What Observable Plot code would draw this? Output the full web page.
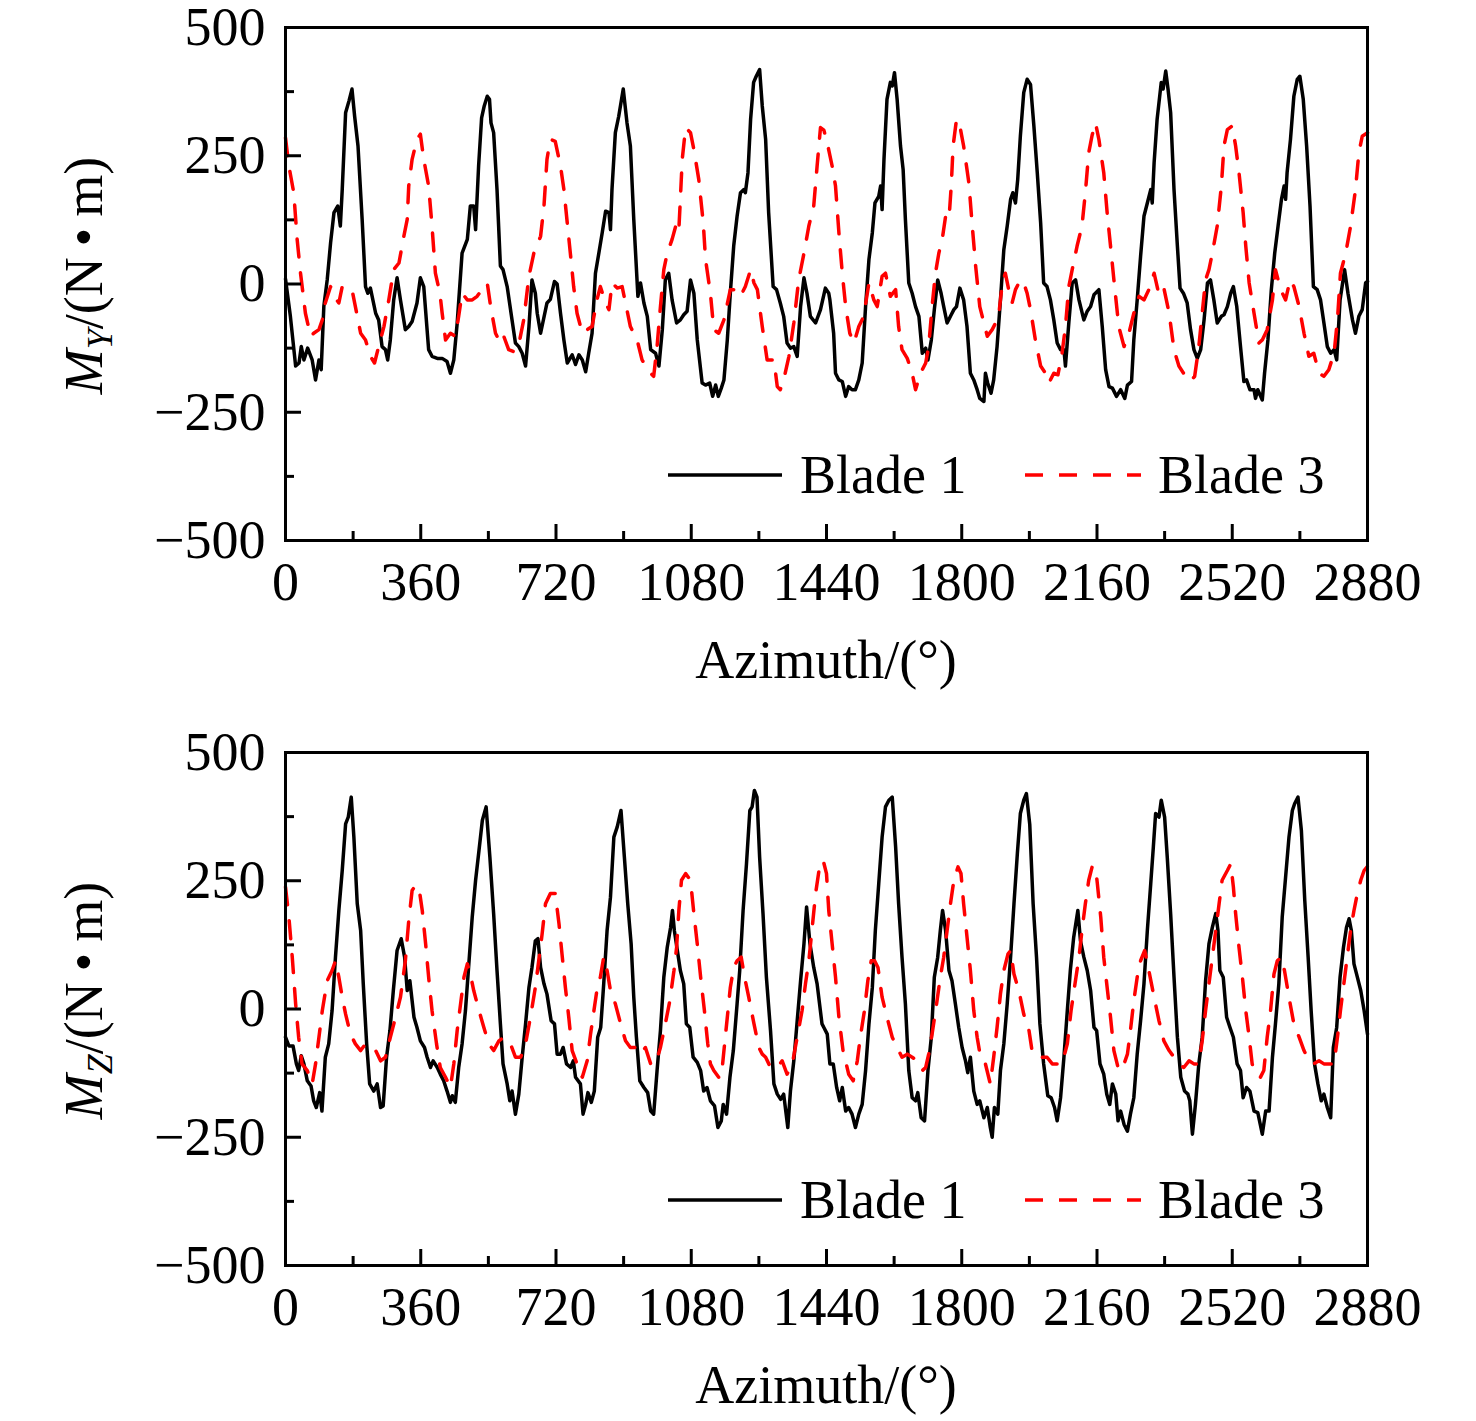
<!DOCTYPE html>
<html>
<head>
<meta charset="utf-8">
<script src="https://cdn.jsdelivr.net/npm/d3@7"></script>
<script src="https://cdn.jsdelivr.net/npm/@observablehq/plot@0.6"></script>
<style>
html,body{margin:0;padding:0;background:#fff;}
#chart svg{display:block;}
</style>
</head>
<body>
<div id="chart"></div>
<script>
// ---- axis ticks ----
const xTicks = [0, 360, 720, 1080, 1440, 1800, 2160, 2520, 2880];
const xMinorTicks = [180, 540, 900, 1260, 1620, 1980, 2340, 2700];
const yTicks = [-500, -250, 0, 250, 500];
const yMinorTicks = [-375, -125, 125, 375];
const seriesNames = ["Blade 1", "Blade 3"];
const xTitle = "Azimuth/(°)";

// ---- M_Y : Blade 1 [azimuth, value] ----
const blade1MY = [[0,10],[13,-63],[27,-160],[36,-154],[42,-122],[49,-148],[59,-125],[71,-148],[80,-187],[89,-148],[95,-167],[102,-44],[111,8],[120,80],[129,139],[139,152],[146,113],[151,184],[160,334],[169,357],[177,380],[184,327],[193,269],[204,126],[213,-5],[219,-18],[226,-8],[240,-57],[248,-70],[257,-122],[266,-128],[272,-148],[279,-109],[288,-31],[297,12],[306,-31],[319,-89],[328,-83],[337,-73],[350,-37],[359,12],[368,-5],[381,-128],[390,-141],[404,-145],[417,-145],[430,-151],[439,-174],[448,-148],[457,-76],[470,60],[484,87],[492,152],[501,152],[506,106],[514,230],[522,324],[529,347],[537,366],[543,360],[547,314],[554,295],[563,184],[572,35],[579,28],[590,-5],[603,-70],[612,-115],[621,-122],[630,-135],[639,-160],[648,-83],[656,8],[665,-18],[670,-57],[679,-96],[696,-37],[705,-30],[716,5],[723,0],[732,-57],[741,-109],[750,-154],[763,-138],[772,-157],[781,-138],[790,-148],[799,-171],[807,-135],[816,-96],[825,21],[834,60],[843,100],[852,142],[861,139],[865,106],[869,184],[878,295],[887,327],[899,380],[909,314],[918,269],[927,126],[938,-24],[945,2],[954,-37],[963,-63],[972,-128],[985,-135],[994,-160],[1003,-89],[1011,8],[1020,21],[1029,-31],[1041,-76],[1051,-70],[1060,-60],[1069,-53],[1078,8],[1087,-18],[1096,-109],[1109,-193],[1118,-197],[1129,-193],[1137,-219],[1145,-197],[1152,-219],[1160,-203],[1167,-187],[1176,-109],[1184,-18],[1193,74],[1202,132],[1211,178],[1220,184],[1224,178],[1231,217],[1238,321],[1246,393],[1253,405],[1262,418],[1269,347],[1278,282],[1286,139],[1298,-5],[1307,-11],[1317,-37],[1326,-63],[1335,-115],[1344,-125],[1353,-122],[1362,-141],[1371,-44],[1380,12],[1388,-18],[1397,-63],[1411,-76],[1424,-50],[1437,-8],[1446,-18],[1449,-31],[1459,-96],[1464,-174],[1473,-187],[1482,-190],[1491,-219],[1499,-200],[1508,-206],[1517,-206],[1526,-187],[1535,-154],[1544,-44],[1553,48],[1562,100],[1569,158],[1579,171],[1584,191],[1588,145],[1593,243],[1601,360],[1610,393],[1615,386],[1621,412],[1628,360],[1637,269],[1644,223],[1650,126],[1659,2],[1668,-18],[1677,-44],[1686,-63],[1695,-135],[1704,-125],[1710,-148],[1719,-109],[1727,-50],[1736,8],[1745,-18],[1752,-44],[1761,-76],[1772,-60],[1779,-50],[1786,-44],[1795,-8],[1805,-31],[1814,-83],[1823,-174],[1832,-187],[1841,-206],[1848,-223],[1859,-229],[1863,-174],[1869,-193],[1878,-213],[1885,-187],[1894,-122],[1903,-31],[1912,67],[1921,113],[1930,165],[1936,178],[1943,158],[1949,204],[1956,288],[1965,373],[1974,399],[1983,389],[1992,308],[2001,217],[2010,119],[2018,2],[2027,-5],[2036,-31],[2045,-70],[2054,-115],[2063,-128],[2072,-128],[2076,-160],[2085,-76],[2094,2],[2103,8],[2112,-31],[2125,-70],[2134,-53],[2143,-44],[2152,-21],[2165,-11],[2174,-83],[2183,-167],[2192,-200],[2201,-203],[2212,-219],[2223,-206],[2234,-223],[2241,-197],[2252,-190],[2258,-109],[2267,-31],[2276,54],[2285,132],[2294,158],[2303,184],[2307,158],[2312,236],[2320,321],[2331,393],[2336,380],[2343,415],[2349,380],[2356,334],[2365,184],[2374,74],[2381,-8],[2390,-18],[2400,-37],[2409,-89],[2418,-128],[2427,-145],[2436,-128],[2445,-70],[2454,2],[2462,8],[2471,-31],[2480,-76],[2491,-63],[2498,-60],[2507,-44],[2516,-18],[2523,-5],[2532,-44],[2542,-122],[2551,-190],[2558,-187],[2567,-206],[2578,-206],[2582,-223],[2588,-206],[2600,-226],[2606,-174],[2615,-109],[2624,-11],[2633,60],[2642,113],[2651,165],[2658,191],[2662,165],[2666,217],[2675,282],[2684,366],[2693,399],[2700,405],[2709,360],[2718,269],[2727,152],[2736,-5],[2746,-11],[2755,-31],[2764,-76],[2773,-122],[2782,-135],[2791,-128],[2798,-148],[2807,-31],[2819,28],[2828,-18],[2840,-70],[2848,-96],[2857,-63],[2866,-50],[2875,2],[2880,5]];

// ---- M_Y : Blade 3 ----
const blade3MY = [[0,285],[9,230],[22,178],[31,87],[40,21],[53,-57],[67,-102],[75,-96],[89,-89],[98,-70],[106,-37],[120,-5],[129,-24],[142,-37],[151,-5],[164,-8],[177,-11],[186,-44],[200,-96],[213,-109],[226,-141],[237,-154],[248,-122],[262,-83],[275,-31],[288,28],[302,41],[315,93],[324,126],[328,191],[337,243],[350,282],[359,292],[368,243],[381,191],[390,113],[399,21],[411,-18],[417,-57],[426,-109],[439,-96],[452,-102],[461,-63],[470,-18],[484,-31],[497,-31],[510,-24],[523,-11],[537,2],[546,-44],[559,-96],[572,-115],[581,-102],[594,-128],[608,-132],[621,-118],[634,-70],[648,15],[661,60],[679,93],[688,152],[696,243],[705,282],[718,278],[732,230],[741,184],[750,119],[759,54],[767,-5],[776,-57],[790,-96],[803,-89],[816,-83],[829,-31],[838,-5],[852,-37],[861,-50],[869,2],[883,-8],[896,-5],[905,-37],[918,-83],[936,-109],[949,-148],[963,-164],[972,-174],[980,-180],[989,-122],[998,-44],[1007,28],[1016,60],[1029,87],[1041,119],[1047,106],[1051,165],[1056,243],[1065,305],[1078,295],[1087,262],[1100,204],[1112,119],[1118,48],[1131,-18],[1140,-89],[1153,-96],[1167,-70],[1184,-11],[1198,-11],[1211,-24],[1224,-5],[1238,28],[1247,2],[1256,-11],[1269,-83],[1282,-148],[1300,-148],[1309,-200],[1317,-206],[1326,-187],[1340,-141],[1353,-76],[1366,8],[1380,60],[1393,113],[1406,152],[1415,230],[1424,305],[1433,300],[1442,275],[1455,230],[1464,191],[1473,100],[1482,21],[1491,-44],[1502,-96],[1513,-115],[1526,-83],[1539,-63],[1553,2],[1566,-31],[1575,-44],[1588,15],[1597,21],[1610,-24],[1624,-11],[1632,-83],[1641,-128],[1655,-145],[1668,-174],[1677,-206],[1690,-174],[1704,-154],[1712,-122],[1721,-44],[1730,21],[1739,60],[1748,87],[1757,132],[1766,126],[1772,191],[1777,269],[1786,321],[1795,308],[1805,269],[1819,197],[1828,113],[1837,35],[1848,-44],[1859,-76],[1868,-102],[1881,-89],[1890,-76],[1899,-57],[1908,2],[1916,21],[1925,-11],[1934,-37],[1943,-11],[1956,8],[1965,2],[1974,-18],[1983,-50],[1996,-109],[2010,-160],[2023,-174],[2032,-193],[2045,-174],[2056,-177],[2067,-135],[2076,-83],[2085,-5],[2094,28],[2107,74],[2120,113],[2129,178],[2138,256],[2147,290],[2156,314],[2165,282],[2178,217],[2187,139],[2196,74],[2205,8],[2218,-83],[2232,-122],[2245,-96],[2258,-57],[2272,-24],[2285,-31],[2298,-11],[2312,21],[2325,-21],[2338,-8],[2352,-57],[2365,-128],[2378,-160],[2396,-180],[2409,-190],[2420,-180],[2431,-122],[2440,-57],[2449,8],[2458,28],[2467,60],[2480,113],[2491,191],[2498,269],[2507,301],[2520,308],[2529,269],[2538,217],[2549,139],[2556,74],[2565,2],[2578,-57],[2591,-115],[2600,-109],[2613,-89],[2627,-31],[2635,28],[2649,-11],[2662,-31],[2674,8],[2684,-5],[2698,-44],[2711,-96],[2724,-141],[2737,-135],[2751,-174],[2764,-180],[2777,-167],[2791,-135],[2800,-70],[2808,21],[2822,60],[2835,113],[2848,184],[2857,256],[2866,288],[2880,295]];

// ---- M_Z : Blade 1 ----
const blade1MZ = [[0,-55],[9,-72],[20,-72],[29,-107],[35,-120],[42,-91],[49,-107],[58,-140],[68,-150],[75,-179],[82,-192],[91,-163],[97,-199],[106,-94],[115,-68],[124,-3],[133,101],[142,192],[151,270],[160,361],[167,374],[175,413],[182,335],[191,205],[200,153],[207,49],[216,-68],[224,-146],[235,-160],[244,-146],[253,-192],[260,-189],[269,-94],[278,-42],[287,36],[297,114],[308,137],[317,101],[324,36],[331,55],[342,-16],[350,-36],[359,-62],[370,-75],[377,-94],[386,-114],[393,-101],[404,-114],[412,-127],[421,-140],[430,-160],[439,-182],[444,-169],[452,-182],[461,-114],[470,-68],[479,-3],[488,88],[497,179],[506,251],[515,309],[524,368],[534,394],[544,296],[554,186],[563,75],[572,-29],[579,-107],[590,-146],[597,-179],[603,-160],[612,-205],[621,-166],[630,-94],[639,-29],[648,42],[656,81],[665,133],[672,137],[679,81],[688,49],[696,29],[707,-23],[716,-29],[723,-88],[732,-88],[739,-75],[748,-107],[759,-114],[766,-101],[772,-133],[785,-146],[792,-205],[799,-186],[805,-163],[814,-182],[822,-160],[831,-55],[839,-36],[847,49],[856,153],[865,218],[874,335],[883,355],[893,387],[902,296],[911,205],[920,127],[927,23],[934,-55],[943,-140],[954,-153],[964,-163],[972,-199],[980,-205],[989,-120],[998,-42],[1007,62],[1016,120],[1025,159],[1030,192],[1035,153],[1043,114],[1051,75],[1060,49],[1067,-29],[1076,-36],[1085,-94],[1096,-104],[1105,-120],[1113,-160],[1122,-153],[1131,-179],[1142,-189],[1151,-231],[1160,-218],[1165,-186],[1174,-205],[1183,-133],[1192,-81],[1202,10],[1209,75],[1218,192],[1227,283],[1236,387],[1242,394],[1248,426],[1255,413],[1262,296],[1271,186],[1280,62],[1291,-42],[1300,-146],[1309,-166],[1318,-176],[1326,-166],[1337,-231],[1344,-160],[1353,-101],[1362,-23],[1371,55],[1380,127],[1387,199],[1396,127],[1406,81],[1415,49],[1428,-29],[1433,-36],[1442,-49],[1449,-107],[1458,-107],[1467,-153],[1475,-179],[1482,-153],[1491,-199],[1499,-192],[1508,-205],[1517,-231],[1526,-205],[1535,-186],[1544,-120],[1553,-29],[1562,42],[1570,153],[1579,244],[1588,335],[1597,394],[1606,407],[1615,413],[1624,316],[1632,205],[1641,101],[1650,10],[1659,-120],[1668,-173],[1677,-179],[1683,-163],[1692,-212],[1701,-218],[1710,-120],[1719,-55],[1727,62],[1736,101],[1743,153],[1749,192],[1757,153],[1766,75],[1774,55],[1783,10],[1792,-36],[1801,-75],[1810,-101],[1816,-124],[1823,-94],[1832,-160],[1841,-186],[1848,-179],[1859,-212],[1868,-192],[1876,-231],[1881,-250],[1887,-192],[1896,-205],[1903,-120],[1912,-68],[1921,10],[1930,101],[1939,205],[1948,303],[1956,381],[1965,407],[1972,420],[1981,360],[1990,205],[1999,101],[2008,-29],[2018,-107],[2029,-169],[2038,-173],[2047,-192],[2054,-218],[2063,-173],[2072,-94],[2081,-3],[2089,75],[2098,140],[2109,192],[2116,133],[2125,101],[2134,75],[2143,36],[2152,-36],[2159,-42],[2168,-107],[2178,-127],[2186,-166],[2194,-186],[2201,-146],[2210,-166],[2216,-218],[2223,-199],[2232,-225],[2241,-238],[2249,-205],[2258,-173],[2267,-88],[2276,-23],[2285,49],[2294,153],[2303,244],[2310,316],[2316,381],[2325,374],[2331,407],[2340,374],[2347,296],[2356,186],[2365,62],[2374,-55],[2383,-133],[2393,-160],[2402,-166],[2407,-179],[2414,-244],[2422,-186],[2431,-107],[2440,-55],[2449,55],[2458,127],[2467,159],[2476,186],[2482,153],[2487,75],[2496,62],[2505,-16],[2514,-36],[2523,-55],[2533,-107],[2542,-120],[2549,-173],[2558,-153],[2567,-160],[2578,-199],[2588,-202],[2600,-244],[2609,-199],[2618,-199],[2627,-94],[2635,-29],[2644,49],[2653,179],[2662,257],[2671,335],[2680,387],[2686,400],[2695,413],[2704,348],[2713,212],[2722,101],[2730,-3],[2739,-107],[2748,-146],[2757,-179],[2764,-166],[2773,-192],[2782,-212],[2789,-75],[2798,-36],[2807,62],[2816,120],[2824,159],[2831,176],[2837,153],[2844,88],[2853,62],[2862,36],[2871,-3],[2880,-49]];

// ---- M_Z : Blade 3 ----
const blade3MZ = [[0,238],[9,179],[18,101],[27,10],[35,-55],[44,-107],[58,-120],[71,-146],[80,-107],[89,-55],[98,-3],[111,55],[124,75],[133,94],[142,62],[151,23],[160,-10],[173,-49],[186,-68],[200,-81],[213,-68],[226,-75],[240,-81],[253,-101],[266,-94],[279,-55],[293,-16],[306,23],[319,94],[328,172],[337,231],[346,241],[355,238],[364,192],[373,127],[381,62],[390,-3],[402,-68],[412,-114],[426,-133],[439,-153],[448,-107],[457,-42],[466,10],[475,62],[484,88],[492,68],[501,36],[515,-3],[528,-36],[541,-68],[554,-81],[568,-62],[581,-55],[599,-68],[612,-94],[626,-94],[639,-68],[652,-16],[665,42],[674,94],[683,146],[692,205],[705,225],[718,225],[728,166],[736,107],[745,42],[754,-16],[763,-81],[776,-107],[790,-133],[803,-101],[812,-49],[821,-3],[830,42],[838,62],[847,101],[856,75],[865,36],[878,10],[892,-29],[905,-62],[918,-75],[932,-75],[945,-88],[958,-75],[972,-107],[985,-107],[998,-75],[1011,-29],[1023,16],[1034,75],[1041,120],[1047,192],[1054,251],[1065,264],[1078,251],[1087,186],[1096,127],[1105,62],[1115,-3],[1124,-68],[1131,-107],[1140,-120],[1153,-133],[1160,-133],[1167,-81],[1176,-16],[1184,42],[1193,81],[1202,94],[1213,101],[1222,62],[1233,23],[1247,-29],[1260,-75],[1269,-88],[1278,-94],[1291,-114],[1309,-114],[1322,-101],[1335,-127],[1349,-107],[1362,-55],[1375,-3],[1384,49],[1393,94],[1402,159],[1411,225],[1420,270],[1431,290],[1440,264],[1446,192],[1455,127],[1464,62],[1473,-16],[1484,-81],[1499,-127],[1511,-140],[1522,-101],[1530,-55],[1541,-3],[1550,55],[1559,94],[1568,94],[1577,81],[1588,23],[1601,-16],[1615,-55],[1628,-75],[1641,-94],[1655,-88],[1668,-94],[1681,-101],[1695,-120],[1704,-114],[1712,-88],[1721,-49],[1733,10],[1743,62],[1752,101],[1761,153],[1770,205],[1779,251],[1790,277],[1798,264],[1805,205],[1814,140],[1823,75],[1832,-3],[1841,-55],[1850,-94],[1863,-107],[1876,-146],[1885,-94],[1894,-36],[1903,29],[1912,75],[1923,107],[1930,114],[1939,68],[1952,36],[1965,-10],[1979,-42],[1987,-81],[2001,-81],[2014,-94],[2027,-94],[2041,-107],[2054,-107],[2067,-107],[2081,-68],[2091,-3],[2100,42],[2112,101],[2120,153],[2129,205],[2138,251],[2147,277],[2156,277],[2161,244],[2170,179],[2178,101],[2187,42],[2196,-16],[2205,-81],[2218,-120],[2232,-107],[2241,-88],[2249,-42],[2258,16],[2267,62],[2276,94],[2287,114],[2298,75],[2312,23],[2325,-23],[2338,-62],[2352,-81],[2365,-94],[2378,-107],[2391,-114],[2405,-101],[2418,-107],[2431,-107],[2440,-62],[2449,-3],[2458,49],[2467,101],[2476,153],[2485,205],[2493,251],[2507,270],[2516,283],[2523,238],[2529,186],[2538,120],[2547,62],[2556,-3],[2565,-55],[2573,-107],[2582,-127],[2595,-133],[2604,-120],[2613,-55],[2622,-3],[2631,68],[2640,94],[2650,101],[2659,75],[2671,23],[2684,-29],[2698,-55],[2711,-81],[2724,-101],[2737,-107],[2751,-101],[2764,-107],[2777,-107],[2791,-107],[2800,-55],[2808,-3],[2817,49],[2826,101],[2835,153],[2844,192],[2853,225],[2862,251],[2871,270],[2880,278]];

const FONT = "'Liberation Serif', 'Times New Roman', Times, serif";
const FS = 54;
const W = 1476, mL = 285, mR = 109, mT = 27;
const plotW = W - mL - mR;  // 1082
const plotH = 513;
const LW = 3.5;
const DASH = "18,16";

function panel(b1, b3, sub, height) {
  const marginBottom = height - mT - plotH;
  const svg = Plot.plot({
    width: W, height,
    marginLeft: mL, marginRight: mR, marginTop: mT, marginBottom,
    style: {fontFamily: FONT, fontSize: FS + "px", color: "#000", background: "#fff", overflow: "visible"},
    x: {domain: [0, 2880]},
    y: {domain: [-500, 500]},
    marks: [
      Plot.line(b1, {x: d => d[0], y: d => d[1], stroke: "#000", strokeWidth: LW}),
      Plot.line(b3, {x: d => d[0], y: d => d[1], stroke: "#ff0000", strokeWidth: LW, strokeDasharray: DASH}),
      Plot.tickX(xTicks, {x: d => d, insetTop: plotH - 16, strokeWidth: 3}),
      Plot.tickX(xMinorTicks, {x: d => d, insetTop: plotH - 9, strokeWidth: 3}),
      Plot.tickY(yTicks, {y: d => d, insetRight: plotW - 16, strokeWidth: 3}),
      Plot.tickY(yMinorTicks, {y: d => d, insetRight: plotW - 9, strokeWidth: 3}),
      Plot.axisX({ticks: xTicks, tickSize: 0, tickPadding: 21, tickFormat: d3.format("d"), label: null, fontSize: FS}),
      Plot.axisY({ticks: yTicks, tickSize: 0, tickPadding: 20, tickFormat: d3.format("d"), label: null, fontSize: FS}),
      Plot.frame({stroke: "#000", strokeWidth: 3})
    ]
  });
  const s = d3.select(svg);
  // x title
  s.append("text").attr("x", mL + plotW / 2).attr("y", 678)
    .attr("text-anchor", "middle").attr("font-size", FS).attr("fill", "#000")
    .attr("font-family", FONT).text(xTitle);
  // y title
  const yl = s.append("text")
    .attr("transform", `translate(102, ${mT + plotH / 2 - 8}) rotate(-90)`)
    .attr("text-anchor", "middle").attr("font-size", FS).attr("fill", "#000")
    .attr("font-family", FONT);
  yl.append("tspan").attr("font-style", "italic").text("M");
  yl.append("tspan").attr("font-style", "italic").attr("font-size", 36).attr("dy", 10).text(sub);
  yl.append("tspan").attr("dy", -10).text("/(N\u2009\u2022\u2009m)");
  // legend
  const ly = mT + 448;
  s.append("line").attr("x1", 668).attr("x2", 782).attr("y1", ly).attr("y2", ly)
    .attr("stroke", "#000").attr("stroke-width", LW);
  s.append("text").attr("x", 800).attr("y", ly + 18).attr("text-anchor", "start")
    .attr("font-size", FS).attr("fill", "#000").attr("font-family", FONT).text(seriesNames[0]);
  s.append("line").attr("x1", 1025).attr("x2", 1141).attr("y1", ly).attr("y2", ly)
    .attr("stroke", "#ff0000").attr("stroke-width", LW).attr("stroke-dasharray", DASH);
  s.append("text").attr("x", 1158).attr("y", ly + 18).attr("text-anchor", "start")
    .attr("font-size", FS).attr("fill", "#000").attr("font-family", FONT).text(seriesNames[1]);
  return svg;
}

const root = document.getElementById("chart");
root.appendChild(panel(blade1MY, blade3MY, "Y", 725));
root.appendChild(panel(blade1MZ, blade3MZ, "Z", 696));
</script>
</body>
</html>
